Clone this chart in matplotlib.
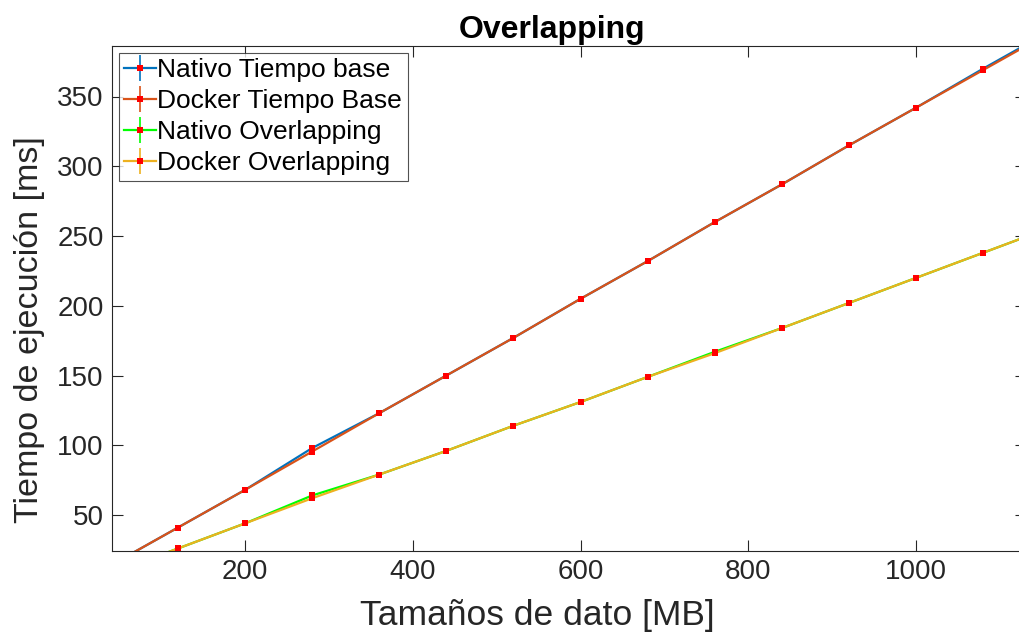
import matplotlib
matplotlib.use("Agg")
import matplotlib.pyplot as plt

# ---- data ----
sizes_mb = [40, 120, 200, 280, 360, 440, 520, 600, 680, 760, 840, 920, 1000, 1080, 1160]
nativo_base = [14, 41, 68, 98, 123, 150, 177, 205, 232, 260, 287, 315, 342, 370, 397]
docker_base = [14, 41, 68, 95.5, 123, 150, 177, 205, 232, 260, 287, 315, 342, 369, 396]
nativo_ov = [8, 26, 44, 64, 79, 96, 114, 131, 149, 167, 184, 202, 220, 238, 256]
docker_ov = [8, 26, 44, 62, 79, 96, 114, 131, 149, 166, 184, 202, 220, 238, 256]
err_nativo_base = [1, 1, 1, 2, 1, 1, 1, 1, 1, 1, 1, 1, 1, 1, 1]
err_docker_base = [1, 1, 1, 2, 1, 1, 1, 1, 1, 1, 1, 1, 1, 1, 1]
err_nativo_ov = [1, 1, 1, 1.5, 1, 1, 1, 1, 1, 1, 1, 1, 1, 1, 1]
err_docker_ov = [1, 1, 1, 1.5, 1, 1, 1, 1, 1, 1, 1, 1, 1, 1, 1]

labels = ["Nativo Tiempo base", "Docker Tiempo Base", "Nativo Overlapping", "Docker Overlapping"]
colors = ["#0072BD", "#D95319", "#00FF00", "#EDB120"]

plt.rcParams['font.family'] = ['Liberation Sans', 'DejaVu Sans']

W, H = 1020, 635
fig = plt.figure(figsize=(W / 100, H / 100), dpi=100)
ax = fig.add_axes([112 / W, 84 / H, 914 / W, 505 / H])

series = [(nativo_base, err_nativo_base), (docker_base, err_docker_base),
          (nativo_ov, err_nativo_ov), (docker_ov, err_docker_ov)]
for (vals, errs), c, lab in zip(series, colors, labels):
    ax.errorbar(sizes_mb, vals, yerr=errs, color=c, lw=1.6, elinewidth=1.2,
                capsize=2.5, capthick=1.2, marker='s', markersize=4.5,
                markeredgewidth=0, markerfacecolor='#FF0000', label=lab)

ax.set_xlim(41.4, 1131)
ax.set_ylim(24.2, 386.2)
ax.set_xticks([200, 400, 600, 800, 1000])
ax.set_yticks([50, 100, 150, 200, 250, 300, 350])
ax.tick_params(direction='in', length=8, width=0.8, colors='#262626',
               labelsize=20, top=True, right=True, pad=6)
for s in ax.spines.values():
    s.set_color('#262626')
    s.set_linewidth(0.8)

ax.set_xlabel("Tamaños de dato [MB]", fontsize=25.5, color='#262626', labelpad=10, x=0.465)
ax.set_ylabel("Tiempo de ejecución [ms]", fontsize=24.5, color='#262626', labelpad=9, y=0.4376)
ax.set_title("Overlapping", fontsize=23, fontweight='bold', pad=6, x=0.481)

leg = ax.legend(loc='upper left', fontsize=19, frameon=True, fancybox=False,
                edgecolor='#262626', handlelength=1.2, handletextpad=0.05,
                borderpad=0.22, labelspacing=0.26, borderaxespad=0.25)
leg.get_frame().set_linewidth(0.8)

fig.savefig("out.png", dpi=100)
